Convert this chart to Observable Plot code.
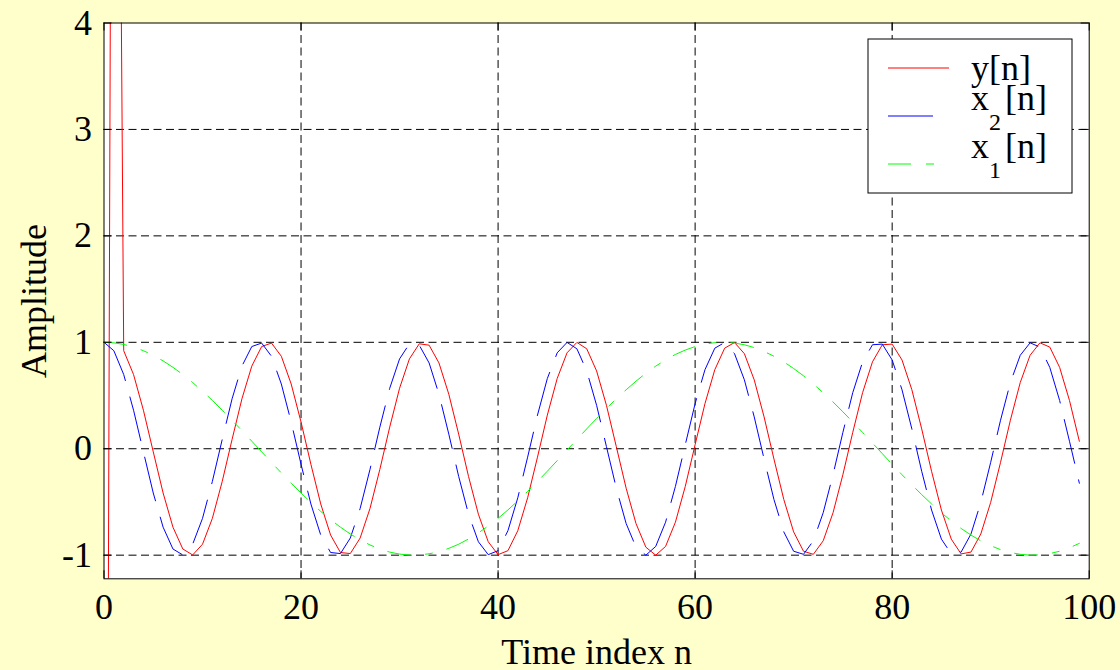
<!DOCTYPE html>
<html>
<head>
<meta charset="utf-8">
<script src="https://cdn.jsdelivr.net/npm/d3@7"></script>
<script src="https://cdn.jsdelivr.net/npm/@observablehq/plot@0.6"></script>
<style>
  html, body { margin: 0; padding: 0; background: #ffffcc; }
  #chart { width: 1120px; height: 670px; }
</style>
</head>
<body>
<div id="chart"></div>
<script>
// ---- data ----
const timeIndex = d3.range(100); // n = 0 … 99

const yValues = [
  -13.524, 13.956, 0.921, 0.697, 0.362, -0.029, -0.416, -0.737, -0.942, -0.998,
  -0.897, -0.654, -0.307, 0.087, 0.469, 0.776, 0.960, 0.993, 0.869, 0.608,
  0.251, -0.146, -0.519, -0.811, -0.975, -0.985, -0.839, -0.561, -0.194, 0.203,
  0.568, 0.844, 0.986, 0.973, 0.806, 0.512, 0.137, -0.260, -0.615, -0.874,
  -0.995, -0.958, -0.770, -0.461, -0.079, 0.316, 0.660, 0.901, 0.999, 0.939,
  0.731, 0.408, 0.020, -0.371, -0.703, -0.925, -1.000, -0.918, -0.690, -0.354,
  0.038, 0.424, 0.743, 0.945, 0.998, 0.893, 0.647, 0.299, -0.096, -0.476,
  -0.781, -0.963, -0.992, -0.865, -0.601, -0.243, 0.154, 0.527, 0.816, 0.977,
  0.983, 0.834, 0.554, 0.186, -0.212, -0.576, -0.849, -0.988, -0.971, -0.801,
  -0.504, -0.128, 0.268, 0.622, 0.878, 0.995, 0.955, 0.764, 0.453, 0.070
];

const x2Values = [
  1.000, 0.921, 0.697, 0.362, -0.029, -0.416, -0.737, -0.942, -0.998, -0.897,
  -0.654, -0.307, 0.087, 0.469, 0.776, 0.960, 0.993, 0.869, 0.608, 0.251,
  -0.146, -0.519, -0.811, -0.975, -0.985, -0.839, -0.561, -0.194, 0.203, 0.568,
  0.844, 0.986, 0.973, 0.806, 0.512, 0.137, -0.260, -0.615, -0.874, -0.995,
  -0.958, -0.770, -0.461, -0.079, 0.316, 0.660, 0.901, 0.999, 0.939, 0.731,
  0.408, 0.020, -0.371, -0.703, -0.925, -1.000, -0.918, -0.690, -0.354, 0.038,
  0.424, 0.743, 0.945, 0.998, 0.893, 0.647, 0.299, -0.096, -0.476, -0.781,
  -0.963, -0.992, -0.865, -0.601, -0.243, 0.154, 0.527, 0.816, 0.977, 0.983,
  0.834, 0.554, 0.186, -0.212, -0.576, -0.849, -0.988, -0.971, -0.801, -0.504,
  -0.128, 0.268, 0.622, 0.878, 0.995, 0.955, 0.764, 0.453, 0.070, -0.324
];

const x1Values = [
  1.000, 0.995, 0.980, 0.955, 0.921, 0.878, 0.825, 0.765, 0.697, 0.622,
  0.540, 0.454, 0.362, 0.267, 0.170, 0.071, -0.029, -0.129, -0.227, -0.323,
  -0.416, -0.505, -0.589, -0.666, -0.737, -0.801, -0.857, -0.904, -0.942, -0.971,
  -0.990, -0.999, -0.998, -0.987, -0.967, -0.936, -0.897, -0.848, -0.791, -0.726,
  -0.654, -0.575, -0.490, -0.401, -0.307, -0.211, -0.112, -0.012, 0.087, 0.187,
  0.284, 0.378, 0.469, 0.554, 0.635, 0.709, 0.776, 0.835, 0.886, 0.927,
  0.960, 0.983, 0.997, 1.000, 0.993, 0.977, 0.950, 0.914, 0.869, 0.816,
  0.754, 0.685, 0.608, 0.526, 0.439, 0.347, 0.251, 0.153, 0.054, -0.046,
  -0.146, -0.244, -0.339, -0.431, -0.519, -0.602, -0.679, -0.749, -0.811, -0.866,
  -0.911, -0.948, -0.975, -0.992, -1.000, -0.997, -0.985, -0.963, -0.930, -0.889
];

const xTicks = [0, 20, 40, 60, 80, 100];
const yTicks = [-1, 0, 1, 2, 3, 4];
const xGrid = [20, 40, 60, 80];
const yGrid = [-1, 0, 1, 2, 3];
const xLabel = "Time index n";
const yLabel = "Amplitude";
const legendItems = [
  { base: "y", sub: "",  rest: "[n]" },
  { base: "x", sub: "2", rest: "[n]" },
  { base: "x", sub: "1", rest: "[n]" }
];

// ---- layout ----
const W = 1120, H = 670;
const mL = 103.5, mR = 31.3, mT = 22.5, mB = 91.7;
const frameW = W - mL - mR, frameH = H - mT - mB;
const tickLen = 8;
const serif = "'Liberation Serif', 'Times New Roman', serif";

const table = timeIndex.map((k, i) => ({ n: k, y: yValues[i], x2: x2Values[i], x1: x1Values[i] }));

const chart = Plot.plot({
  width: W,
  height: H,
  marginLeft: mL, marginRight: mR, marginTop: mT, marginBottom: mB,
  style: { background: "#ffffcc", fontFamily: serif, fontSize: "36px", color: "black" },
  x: { domain: [0, 100], ticks: xTicks, tickSize: 0, tickPadding: 15, tickFormat: d => String(d), label: null },
  y: { domain: [-1.222, 4], ticks: yTicks, tickSize: 0, tickPadding: 12, tickFormat: d => String(d), label: null },
  marks: [
    Plot.frame({ fill: "white", stroke: "none" }),
    Plot.ruleX(xGrid, { x: d => d, stroke: "black", strokeWidth: 1, strokeDasharray: "8,4.5" }),
    Plot.ruleY(yGrid, { y: d => d, stroke: "black", strokeWidth: 1, strokeDasharray: "8,4.5" }),
    Plot.line(table, { x: "n", y: "y", stroke: "#ff0000", strokeWidth: 1, clip: true }),
    Plot.line(table, { x: "n", y: "x2", stroke: "#0000ff", strokeWidth: 1, strokeDasharray: "45,17", clip: true }),
    Plot.line(table, { x: "n", y: "x1", stroke: "#00ff00", strokeWidth: 1, strokeDasharray: "23,15,7,15", clip: true }),
    Plot.frame({ stroke: "black", strokeWidth: 1 }),
    // inward tick marks on all four sides
    Plot.tickX(xTicks, { x: d => d, insetTop: frameH - tickLen, stroke: "black" }),
    Plot.tickX(xTicks, { x: d => d, insetBottom: frameH - tickLen, stroke: "black" }),
    Plot.tickY(yTicks, { y: d => d, insetRight: frameW - tickLen, stroke: "black" }),
    Plot.tickY(yTicks, { y: d => d, insetLeft: frameW - tickLen, stroke: "black" }),
    Plot.text([xLabel], { frameAnchor: "bottom", lineAnchor: "bottom", dy: 85.5, fontSize: 36, fill: "black" }),
    Plot.text([yLabel], { frameAnchor: "left", rotate: -90, textAnchor: "middle", lineAnchor: "bottom", dx: -58.5, fontSize: 36, fill: "black" })
  ]
});

document.getElementById("chart").appendChild(chart);

// ---- legend (MATLAB style box, top right) ----
const svg = d3.select(chart);
const lg = svg.append("g").attr("font-family", serif).attr("text-anchor", "start");
lg.append("rect")
  .attr("x", 868).attr("y", 39).attr("width", 204).attr("height", 154)
  .attr("fill", "white").attr("stroke", "black").attr("stroke-width", 1);

const legendStyles = [
  { color: "#ff0000", x2: 949, dash: null, lineY: 68, textY: 80 },
  { color: "#0000ff", x2: 933, dash: null, lineY: 116, textY: 110 },
  { color: "#00ff00", x2: 934, dash: "23,15,8", lineY: 164, textY: 158 }
];

legendItems.forEach((item, i) => {
  const s = legendStyles[i];
  const ln = lg.append("line")
    .attr("x1", 888).attr("x2", s.x2)
    .attr("y1", s.lineY).attr("y2", s.lineY)
    .attr("stroke", s.color).attr("stroke-width", 1);
  if (s.dash) ln.attr("stroke-dasharray", s.dash);
  const t = lg.append("text")
    .attr("x", 971).attr("y", s.textY)
    .attr("fill", "black")
    .attr("text-anchor", "start")
    .style("font-size", "36px");
  t.append("tspan").text(item.base);
  if (item.sub) {
    t.append("tspan").attr("dy", 20).style("font-size", "24px").text(item.sub);
    t.append("tspan").attr("x", 1005).attr("dy", -20).text(item.rest);
  } else {
    t.append("tspan").text(item.rest);
  }
});
</script>
</body>
</html>
